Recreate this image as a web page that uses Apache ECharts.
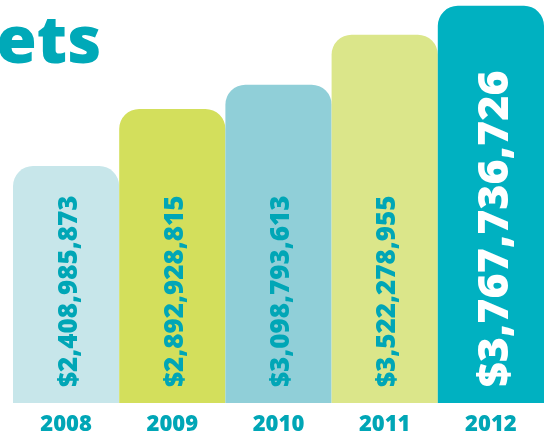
<!DOCTYPE html>
<html>
<head>
<meta charset="utf-8">
<script src="https://cdn.jsdelivr.net/npm/echarts@6/dist/echarts.min.js"></script>
<style>html,body{margin:0;padding:0;background:#fff;}#c{width:550px;height:439px;}</style>
</head>
<body>
<div id="c"></div>
<script>
const years = ['2008', '2009', '2010', '2011', '2012'];
const assets = [2408985873, 2892928815, 3098793613, 3522278955, 3767736726];
const titleText = 'ets';

const barColors = ['#c7e6ea', '#d3df5c', '#90cfd8', '#dbe68a', '#00b1c1'];
const teal = '#00a6b6';
const FONT = '"Open Sans"';

const chart = echarts.init(document.getElementById('c'), null, {renderer: 'canvas'});
const fmt = v => '$' + v.toLocaleString('en-US');

const data = assets.map((v, i) => {
  const last = i === assets.length - 1;
  return {
    value: v,
    itemStyle: {color: barColors[i]},
    label: last ? {color: '#ffffff', fontSize: 43, offset: [0, 5]} : {}
  };
});

chart.setOption({
  animation: false,
  graphic: [{
    type: 'text', left: -4, top: 11,
    style: {text: titleText, fill: '#00a9b8', font: '800 66px ' + FONT}
  }],
  grid: {left: 13, right: 6, top: 2, bottom: 36},
  xAxis: {
    type: 'category', data: years,
    axisLine: {show: false}, axisTick: {show: false},
    axisLabel: {color: teal, fontFamily: FONT, fontWeight: 800, fontSize: 22, margin: 11}
  },
  yAxis: {
    type: 'value', min: 400000000, max: 3800000000,
    show: false, splitLine: {show: false}
  },
  series: [{
    type: 'bar', data: data, barCategoryGap: 0, barGap: 0,
    itemStyle: {borderRadius: [20, 20, 0, 0]},
    label: {
      show: true, position: 'insideBottom', distance: 16, rotate: 90,
      align: 'left', verticalAlign: 'middle', offset: [0, 3],
      color: teal, fontFamily: FONT, fontWeight: 800, fontSize: 26,
      formatter: p => fmt(p.value)
    }
  }]
});
</script>
</body>
</html>
